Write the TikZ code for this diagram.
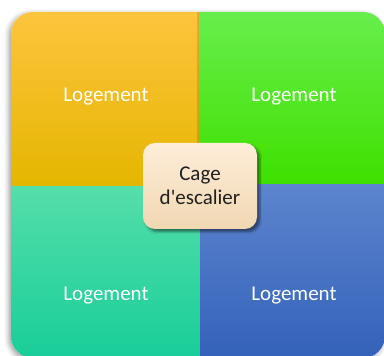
\documentclass[tikz,border=0pt]{standalone}
\usepackage{fontspec}
\setmainfont{Carlito}
\usetikzlibrary{shadows.blur}
\definecolor{tlT}{HTML}{FDC43E}\definecolor{tlM}{HTML}{FFC500}\definecolor{tlB}{HTML}{E5B600}
\definecolor{trT}{HTML}{68EE4C}\definecolor{trM}{HTML}{4CF012}\definecolor{trB}{HTML}{3FE000}
\definecolor{blT}{HTML}{55DEAA}\definecolor{blM}{HTML}{2DE0A5}\definecolor{blB}{HTML}{18CE99}
\definecolor{brT}{HTML}{5D85CE}\definecolor{brM}{HTML}{4472C4}\definecolor{brB}{HTML}{3462BA}
\definecolor{ceT}{HTML}{FEEDD8}\definecolor{ceB}{HTML}{F0D7B2}
\tikzset{
  lab/.style={text=white,font=\fontsize{21}{25}\selectfont,inner sep=0pt},
  centerbox/.style={rounded corners=12pt,minimum width=114pt,minimum height=86pt,
    top color=ceT,bottom color=ceB,draw=none,align=center,
    font=\fontsize{21}{24}\selectfont,text=black!88,
    blur shadow={shadow xshift=3pt,shadow yshift=-3pt,shadow blur steps=6,shadow opacity=45}},
}
\begin{document}
\begin{tikzpicture}[x=1pt,y=1pt]
\useasboundingbox (0,0) rectangle (384,356);
\clip (0,0) rectangle (384,356);
% outer shadow
\path[rounded corners=22pt,fill=white,blur shadow={shadow xshift=-2pt,shadow yshift=-2pt,shadow blur radius=5pt,shadow opacity=40}]
  (11,-2) rectangle (385,344);
\begin{scope}
\clip[rounded corners=22pt] (11,-2) rectangle (385,344);
\shade[top color=blT,middle color=blM,bottom color=blB] (11,-2) rectangle (200,171);
\shade[top color=brT,middle color=brM,bottom color=brB] (200,-2) rectangle (385,173);
\shade[top color=tlT,middle color=tlM,bottom color=tlB] (11,170) rectangle (199,344);
\fill[black,opacity=0.12] (197,172) rectangle (199,344);
\shade[top color=trT,middle color=trM,bottom color=trB] (199,172) rectangle (385,344);
\end{scope}
\node[lab] (tl) at (106,259) {Logement};
\node[lab] (tr) at (294,259) {Logement};
\node[lab] (bl) at (106,60) {Logement};
\node[lab] (br) at (294,60) {Logement};
\node[centerbox] (cage) at (200,170) {Cage\\d\textquotesingle escalier};
\end{tikzpicture}
\end{document}
